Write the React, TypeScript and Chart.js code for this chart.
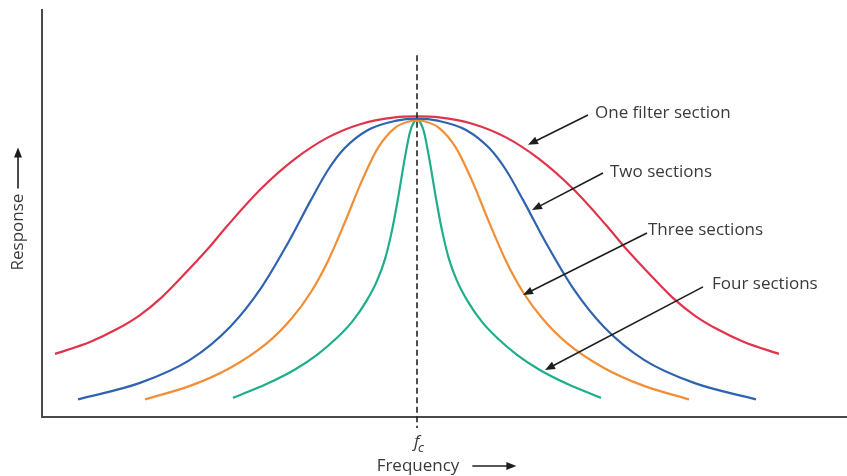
import React, { useEffect, useRef } from "react";
import { Chart, registerables } from "chart.js";
Chart.register(...registerables);

// Frequency offset from fc (arbitrary units), fc = 0; response normalised to peak = 1
const fc = 0;
const redX = [-3.62, -3.27, -3.0, -2.77, -2.55, -2.37, -2.1, -1.89, -1.56, -1.22, -0.89, -0.56, -0.22, 0, 0.22, 0.56, 0.89, 1.22, 1.56, 1.89, 2.1, 2.37, 2.55, 2.77, 3.0, 3.27, 3.62];
const redY = [0.211, 0.251, 0.294, 0.341, 0.401, 0.462, 0.559, 0.642, 0.763, 0.863, 0.935, 0.98, 1.002, 1.005, 1.002, 0.98, 0.935, 0.863, 0.763, 0.642, 0.559, 0.462, 0.401, 0.341, 0.294, 0.251, 0.211];
const blueX = [-3.39, -2.77, -2.27, -1.87, -1.56, -1.29, -1.06, -0.89, -0.72, -0.49, -0.22, 0, 0.22, 0.49, 0.72, 0.89, 1.06, 1.29, 1.56, 1.87, 2.27, 2.77, 3.39];
const blueY = [0.059, 0.114, 0.191, 0.301, 0.431, 0.582, 0.726, 0.826, 0.9, 0.96, 0.99, 0.998, 0.99, 0.96, 0.9, 0.826, 0.726, 0.582, 0.431, 0.301, 0.191, 0.114, 0.059];
const orangeX = [-2.72, -2.27, -1.87, -1.5, -1.25, -1.06, -0.89, -0.72, -0.56, -0.39, -0.22, -0.06, 0, 0.06, 0.22, 0.39, 0.56, 0.72, 0.89, 1.06, 1.25, 1.5, 1.87, 2.27, 2.72];
const orangeY = [0.059, 0.104, 0.164, 0.247, 0.331, 0.418, 0.522, 0.652, 0.783, 0.9, 0.967, 0.99, 0.993, 0.99, 0.967, 0.9, 0.783, 0.652, 0.522, 0.418, 0.331, 0.247, 0.164, 0.104, 0.059];
const greenX = [-1.84, -1.5, -1.22, -1.0, -0.8, -0.65, -0.5, -0.4, -0.32, -0.25, -0.19, -0.12, -0.07, -0.03, 0, 0.03, 0.07, 0.12, 0.19, 0.25, 0.32, 0.4, 0.5, 0.65, 0.8, 1.0, 1.22, 1.5, 1.84];
const greenY = [0.064, 0.111, 0.159, 0.208, 0.265, 0.318, 0.391, 0.455, 0.528, 0.624, 0.731, 0.869, 0.953, 0.987, 0.993, 0.987, 0.953, 0.869, 0.731, 0.624, 0.528, 0.455, 0.391, 0.318, 0.265, 0.208, 0.159, 0.111, 0.064];

const seriesLabels = ["One filter section", "Two sections", "Three sections", "Four sections"];
const seriesColors = ["#e0344a", "#2f63b0", "#f28e36", "#1fae8c"];
const labelX = [1.78, 1.93, 2.31, 2.95];
const labelY = [1.017, 0.819, 0.625, 0.445];
const arrowFromX = [1.71, 1.86, 2.3, 2.86];
const arrowFromY = [1.01, 0.816, 0.615, 0.435];
const arrowToX = [1.11, 1.15, 1.06, 1.28];
const arrowToY = [0.91, 0.692, 0.408, 0.157];

const xMin = -3.75;
const xMax = 4.3;
const yMax = 1.361;
const fcLineTop = 1.21;

const FONT = '"Open Sans", "DejaVu Sans", sans-serif';
const INK = "#3a3a3a";

function drawArrow(ctx: CanvasRenderingContext2D, x1: number, y1: number, x2: number, y2: number, color: string) {
  const ang = Math.atan2(y2 - y1, x2 - x1);
  const len = 10;
  const hw = 4;
  ctx.save();
  ctx.strokeStyle = color;
  ctx.fillStyle = color;
  ctx.lineWidth = 1.6;
  ctx.beginPath();
  ctx.moveTo(x1, y1);
  ctx.lineTo(x2 - Math.cos(ang) * len * 0.8, y2 - Math.sin(ang) * len * 0.8);
  ctx.stroke();
  ctx.beginPath();
  ctx.moveTo(x2, y2);
  ctx.lineTo(x2 - Math.cos(ang) * len - Math.sin(ang) * hw, y2 - Math.sin(ang) * len + Math.cos(ang) * hw);
  ctx.lineTo(x2 - Math.cos(ang) * len + Math.sin(ang) * hw, y2 - Math.sin(ang) * len - Math.cos(ang) * hw);
  ctx.closePath();
  ctx.fill();
  ctx.restore();
}

const annotations = {
  id: "annotations",
  afterDatasetsDraw(chart: any) {
    const ctx: CanvasRenderingContext2D = chart.ctx;
    const xs = chart.scales.x;
    const ys = chart.scales.y;
    const area = chart.chartArea;
    const px = xs.getPixelForValue(fc);

    // dashed fc line
    ctx.save();
    ctx.strokeStyle = "#222";
    ctx.lineWidth = 1.6;
    ctx.setLineDash([6, 3.5]);
    ctx.beginPath();
    ctx.moveTo(px, ys.getPixelForValue(fcLineTop));
    ctx.lineTo(px, area.bottom + 11);
    ctx.stroke();
    ctx.restore();

    // series labels + arrows
    ctx.save();
    ctx.font = `17px ${FONT}`;
    ctx.fillStyle = INK;
    ctx.textAlign = "left";
    ctx.textBaseline = "middle";
    for (let i = 0; i < seriesLabels.length; i++) {
      ctx.fillText(seriesLabels[i], xs.getPixelForValue(labelX[i]), ys.getPixelForValue(labelY[i]));
      drawArrow(
        ctx,
        xs.getPixelForValue(arrowFromX[i]),
        ys.getPixelForValue(arrowFromY[i]),
        xs.getPixelForValue(arrowToX[i]),
        ys.getPixelForValue(arrowToY[i]),
        "#1e1e1e"
      );
    }
    ctx.restore();

    // fc label
    ctx.save();
    ctx.fillStyle = INK;
    ctx.textBaseline = "alphabetic";
    ctx.textAlign = "left";
    ctx.font = `italic 17px ${FONT}`;
    ctx.fillText("f", px - 3, area.bottom + 30);
    ctx.font = `italic 13px ${FONT}`;
    ctx.fillText("c", px + 1, area.bottom + 35);
    ctx.restore();

    // Frequency axis label
    ctx.save();
    ctx.fillStyle = INK;
    ctx.font = `17px ${FONT}`;
    ctx.textAlign = "center";
    ctx.textBaseline = "middle";
    const fy = area.bottom + 49;
    ctx.fillText("Frequency", px + 1, fy);
    const w = ctx.measureText("Frequency").width;
    const ax0 = px + 1 + w / 2 + 13;
    drawArrow(ctx, ax0, fy, ax0 + 44, fy, "#1e1e1e");
    ctx.restore();

    // Response axis label
    ctx.save();
    ctx.fillStyle = INK;
    ctx.font = `17px ${FONT}`;
    ctx.translate(18, 232);
    ctx.rotate(-Math.PI / 2);
    ctx.textAlign = "center";
    ctx.textBaseline = "middle";
    ctx.fillText("Response", 0, 0);
    const rw = ctx.measureText("Response").width;
    drawArrow(ctx, rw / 2 + 5, 0, rw / 2 + 46, 0, "#1e1e1e");
    ctx.restore();
  },
};

function toPoints(xs: number[], ys: number[]) {
  return xs.map((x, i) => ({ x, y: ys[i] }));
}

export default function App() {
  const ref = useRef<HTMLCanvasElement>(null);
  useEffect(() => {
    document.body.style.margin = "0";
    const canvas = ref.current!;
    const series = [
      toPoints(redX, redY),
      toPoints(blueX, blueY),
      toPoints(orangeX, orangeY),
      toPoints(greenX, greenY),
    ];
    const chart = new Chart(canvas, {
      type: "line",
      data: {
        datasets: series.map((d, i) => ({
          label: seriesLabels[i],
          data: d,
          borderColor: seriesColors[i],
          borderWidth: 2.2,
          pointRadius: 0,
          fill: false,
          cubicInterpolationMode: "monotone" as const,
        })),
      },
      options: {
        animation: false,
        responsive: false,
        maintainAspectRatio: false,
        layout: { padding: { left: 42, right: 0, top: 10, bottom: 59 } },
        plugins: { legend: { display: false }, tooltip: { enabled: false } },
        scales: {
          x: {
            type: "linear",
            min: xMin,
            max: xMax,
            ticks: { display: false },
            grid: { display: false, drawTicks: false },
            border: { display: true, color: "#4a4a4a", width: 2 },
          },
          y: {
            type: "linear",
            min: 0,
            max: yMax,
            ticks: { display: false },
            grid: { display: false, drawTicks: false },
            border: { display: true, color: "#4a4a4a", width: 2 },
          },
        },
      },
      plugins: [annotations],
    });
    return () => chart.destroy();
  }, []);
  return (
    <div style={{ width: 847, height: 476 }}>
      <canvas ref={ref} width={847} height={476} style={{ display: "block" }} />
    </div>
  );
}
